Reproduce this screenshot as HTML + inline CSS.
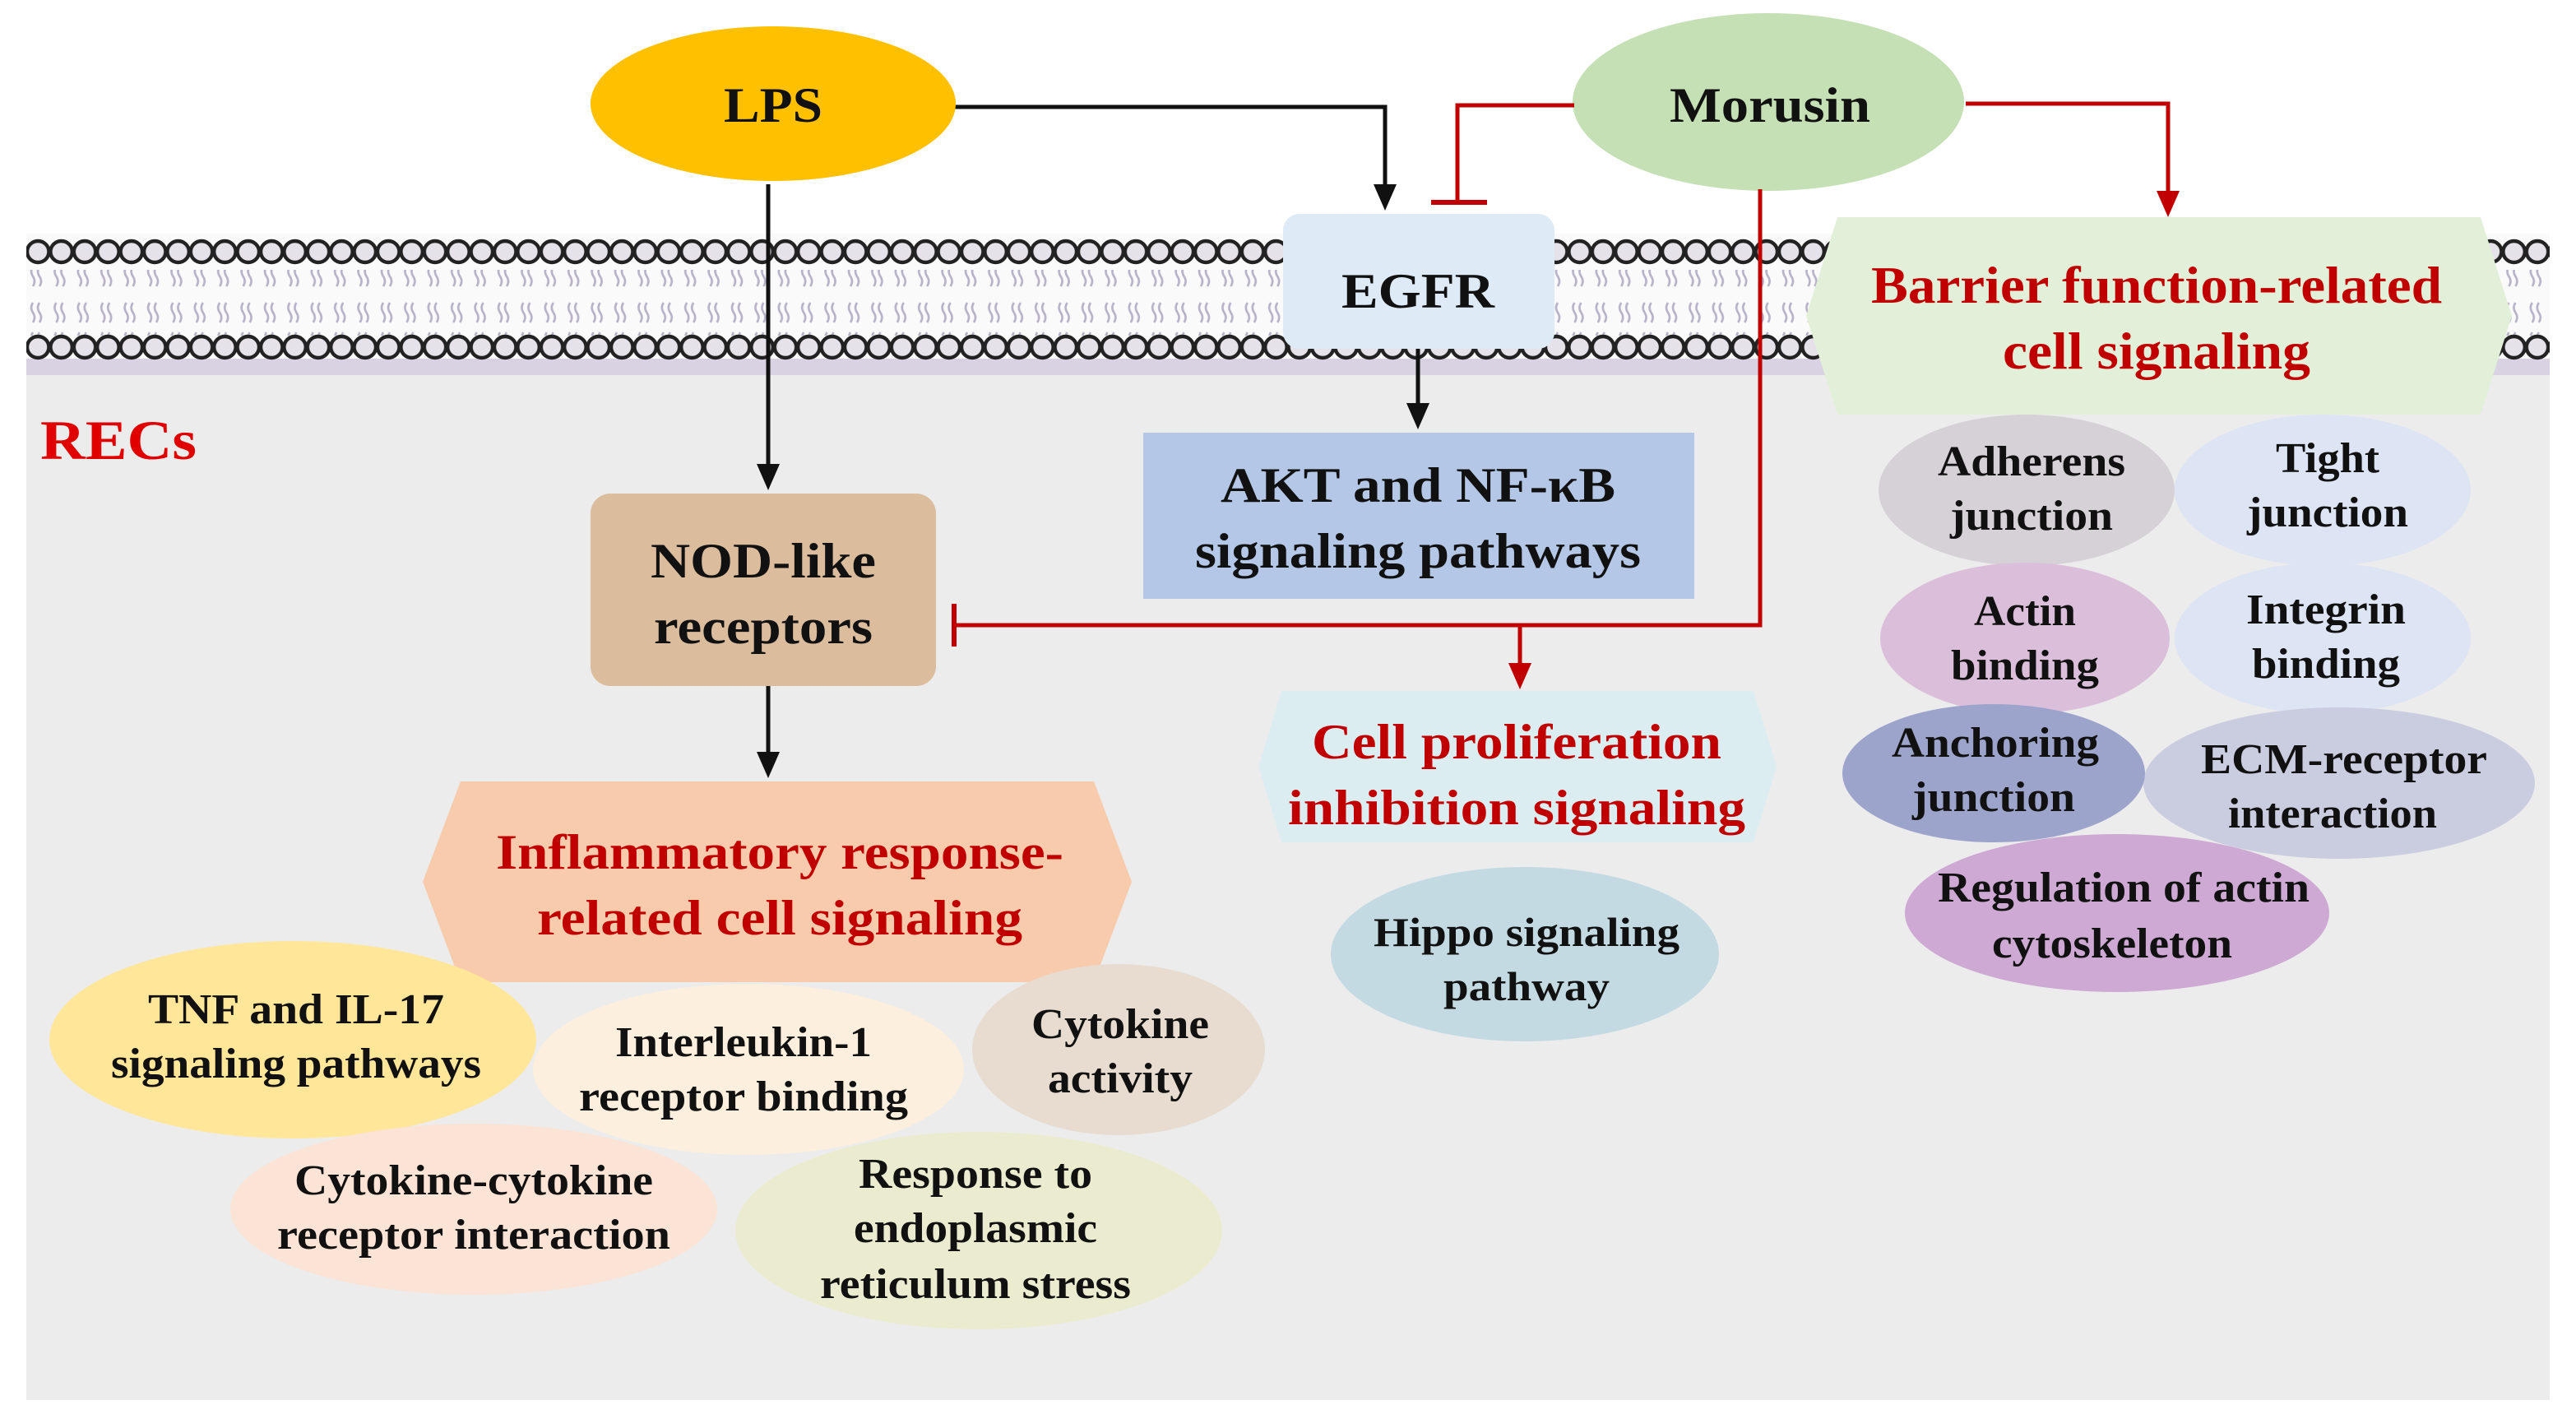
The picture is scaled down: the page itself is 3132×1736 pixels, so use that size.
<!DOCTYPE html>
<html><head><meta charset="utf-8"><style>
html,body{margin:0;padding:0;background:#fff;}
svg{display:block;}
text{font-family:"Liberation Serif",serif;font-weight:bold;text-anchor:middle;}
.r{fill:#c00000;}
.k{fill:#111;}
</style></head><body>
<svg width="3132" height="1736" viewBox="0 0 1566 868" xmlns="http://www.w3.org/2000/svg">
<defs>
<pattern id="heads" x="16" y="0" width="14.2" height="20" patternUnits="userSpaceOnUse">
<ellipse cx="7.1" cy="10" rx="6.6" ry="6.5" fill="#e6e2ea" stroke="#222" stroke-width="2.2"/>
</pattern>
<pattern id="tails" x="16" y="0" width="14.2" height="40" patternUnits="userSpaceOnUse">
<path d="M4 2 q-2 3 0 6 q2 3 0 6 M8 2 q-2 3 0 6 q2 3 0 6 M4 24 q-2 3 0 6 q2 3 0 6 M8 24 q-2 3 0 6 q2 3 0 6" fill="none" stroke="#b8b2c8" stroke-width="1.3"/>
</pattern>
</defs>
<rect x="16" y="145" width="1534" height="706" fill="#ececec"/>
<rect x="16" y="142" width="1534" height="80" fill="#fafafa"/>
<rect x="16" y="218" width="1534" height="10" fill="#d9d2e2"/>
<rect x="16" y="164" width="1534" height="40" fill="url(#tails)"/>
<g transform="translate(0,143)"><rect x="16" y="0" width="1534" height="20" fill="url(#heads)"/></g>
<g transform="translate(0,201)"><rect x="16" y="0" width="1534" height="20" fill="url(#heads)"/></g>

<text x="72" y="279" class="r" font-size="34" textLength="95" lengthAdjust="spacingAndGlyphs" style="fill:#e00000">RECs</text>

<g fill="none" stroke="#111" stroke-width="2.5">
<path d="M580 65 H842 V115"/>
<path d="M467 112 V285"/>
<path d="M862 212 V248"/>
<path d="M467 417 V460"/>
</g>
<g fill="#111">
<path d="M835 112 L849 112 L842 128 Z"/>
<path d="M460 282 L474 282 L467 298 Z"/>
<path d="M855 245 L869 245 L862 261 Z"/>
<path d="M460 457 L474 457 L467 473 Z"/>
</g>

<ellipse cx="470" cy="63" rx="111" ry="47" fill="#ffc000"/>
<text x="470" y="74" class="k" font-size="30" textLength="60" lengthAdjust="spacingAndGlyphs">LPS</text>
<ellipse cx="1075" cy="62" rx="119" ry="54" fill="#c5e0b4"/>
<text x="1076" y="74" class="k" font-size="30" textLength="122" lengthAdjust="spacingAndGlyphs">Morusin</text>

<g fill="none" stroke="#c00000" stroke-width="2.5">
<path d="M957 64 H886 V122"/>
<path d="M870 123 H904" stroke-width="3"/>
<path d="M1195 63 H1318 V120"/>
<path d="M1070 115 V380 H580"/>
<path d="M580 367 V393" stroke-width="3"/>
<path d="M924 380 V406"/>
</g>
<path d="M1311 116 L1325 116 L1318 132 Z" fill="#c00000"/>
<path d="M917 403 L931 403 L924 419 Z" fill="#c00000"/>

<rect x="780" y="130" width="165" height="82" rx="10" fill="#deebf7"/>
<text x="862" y="187" class="k" font-size="30" textLength="93" lengthAdjust="spacingAndGlyphs">EGFR</text>
<rect x="695" y="263" width="335" height="101" fill="#b4c7e7"/>
<text x="862" y="305" class="k" font-size="30" textLength="240" lengthAdjust="spacingAndGlyphs">AKT and NF-κB</text>
<text x="862" y="345" class="k" font-size="30" textLength="271" lengthAdjust="spacingAndGlyphs">signaling pathways</text>
<rect x="359" y="300" width="210" height="117" rx="12" fill="#dbbc9d"/>
<text x="464" y="351" class="k" font-size="30" textLength="137" lengthAdjust="spacingAndGlyphs">NOD-like</text>
<text x="464" y="391" class="k" font-size="30" textLength="133" lengthAdjust="spacingAndGlyphs">receptors</text>

<polygon points="1117,132 1508,132 1527,192 1508,252 1117,252 1098,192" fill="#e2f0d9"/>
<text x="1311" y="184" class="r" font-size="32" textLength="347" lengthAdjust="spacingAndGlyphs">Barrier function-related</text>
<text x="1311" y="224" class="r" font-size="32" textLength="187" lengthAdjust="spacingAndGlyphs">cell signaling</text>

<polygon points="779,420 1066,420 1080,466 1066,512 779,512 765,466" fill="#dcedf2"/>
<text x="922" y="461" class="r" font-size="30" textLength="249" lengthAdjust="spacingAndGlyphs">Cell proliferation</text>
<text x="922" y="501" class="r" font-size="30" textLength="278" lengthAdjust="spacingAndGlyphs">inhibition signaling</text>

<polygon points="280,475 665,475 688,536 665,597 280,597 257,536" fill="#f8cbad"/>
<text x="474" y="528" class="r" font-size="30" textLength="345" lengthAdjust="spacingAndGlyphs">Inflammatory response-</text>
<text x="474" y="568" class="r" font-size="30" textLength="295" lengthAdjust="spacingAndGlyphs">related cell signaling</text>

<ellipse cx="927" cy="580" rx="118" ry="53" fill="#c4dae3"/>
<text x="928" y="575" class="k" font-size="25" textLength="186" lengthAdjust="spacingAndGlyphs">Hippo signaling</text>
<text x="928" y="608" class="k" font-size="25" textLength="101" lengthAdjust="spacingAndGlyphs">pathway</text>

<ellipse cx="178" cy="632" rx="148" ry="60" fill="#ffe699"/>
<text x="180" y="622" class="k" font-size="26" textLength="180" lengthAdjust="spacingAndGlyphs">TNF and IL-17</text>
<text x="180" y="655" class="k" font-size="26" textLength="225" lengthAdjust="spacingAndGlyphs">signaling pathways</text>
<ellipse cx="455" cy="650" rx="131" ry="52" fill="#fcefdd"/>
<text x="452" y="642" class="k" font-size="26" textLength="156" lengthAdjust="spacingAndGlyphs">Interleukin-1</text>
<text x="452" y="675" class="k" font-size="26" textLength="200" lengthAdjust="spacingAndGlyphs">receptor binding</text>
<ellipse cx="680" cy="638" rx="89" ry="52" fill="#e8dcd0"/>
<text x="681" y="631" class="k" font-size="26" textLength="108" lengthAdjust="spacingAndGlyphs">Cytokine</text>
<text x="681" y="664" class="k" font-size="26" textLength="88" lengthAdjust="spacingAndGlyphs">activity</text>
<ellipse cx="288" cy="735" rx="148" ry="52" fill="#fbe3d5"/>
<text x="288" y="726" class="k" font-size="26" textLength="218" lengthAdjust="spacingAndGlyphs">Cytokine-cytokine</text>
<text x="288" y="759" class="k" font-size="26" textLength="239" lengthAdjust="spacingAndGlyphs">receptor interaction</text>
<ellipse cx="595" cy="748" rx="148" ry="60" fill="#ebeccf"/>
<text x="593" y="722" class="k" font-size="26" textLength="142" lengthAdjust="spacingAndGlyphs">Response to</text>
<text x="593" y="755" class="k" font-size="26" textLength="148" lengthAdjust="spacingAndGlyphs">endoplasmic</text>
<text x="593" y="789" class="k" font-size="26" textLength="189" lengthAdjust="spacingAndGlyphs">reticulum stress</text>

<ellipse cx="1232" cy="298" rx="90" ry="46" fill="#d6d1d7"/>
<text x="1235" y="289" class="k" font-size="26" textLength="114" lengthAdjust="spacingAndGlyphs">Adherens</text>
<text x="1235" y="322" class="k" font-size="26" textLength="99" lengthAdjust="spacingAndGlyphs">junction</text>
<ellipse cx="1412" cy="298" rx="90" ry="46" fill="#dde4f3"/>
<text x="1415" y="287" class="k" font-size="26" textLength="63" lengthAdjust="spacingAndGlyphs">Tight</text>
<text x="1415" y="320" class="k" font-size="26" textLength="98" lengthAdjust="spacingAndGlyphs">junction</text>
<ellipse cx="1231" cy="388" rx="88" ry="46" fill="#dbbfda"/>
<text x="1231" y="380" class="k" font-size="26" textLength="62" lengthAdjust="spacingAndGlyphs">Actin</text>
<text x="1231" y="413" class="k" font-size="26" textLength="90" lengthAdjust="spacingAndGlyphs">binding</text>
<ellipse cx="1412" cy="388" rx="90" ry="46" fill="#dde4f3"/>
<text x="1414" y="379" class="k" font-size="26" textLength="97" lengthAdjust="spacingAndGlyphs">Integrin</text>
<text x="1414" y="412" class="k" font-size="26" textLength="90" lengthAdjust="spacingAndGlyphs">binding</text>
<ellipse cx="1422" cy="476" rx="119" ry="46" fill="#cacce0"/>
<text x="1425" y="470" class="k" font-size="26" textLength="174" lengthAdjust="spacingAndGlyphs">ECM-receptor</text>
<text x="1418" y="503" class="k" font-size="26" textLength="127" lengthAdjust="spacingAndGlyphs">interaction</text>
<ellipse cx="1212" cy="470" rx="92" ry="42" fill="#9da4cc"/>
<text x="1213" y="460" class="k" font-size="26" textLength="126" lengthAdjust="spacingAndGlyphs">Anchoring</text>
<text x="1212" y="493" class="k" font-size="26" textLength="99" lengthAdjust="spacingAndGlyphs">junction</text>
<ellipse cx="1287" cy="555" rx="129" ry="48" fill="#cda9d4"/>
<text x="1291" y="548" class="k" font-size="26" textLength="226" lengthAdjust="spacingAndGlyphs">Regulation of actin</text>
<text x="1284" y="582" class="k" font-size="26" textLength="146" lengthAdjust="spacingAndGlyphs">cytoskeleton</text>
</svg>
</body></html>
